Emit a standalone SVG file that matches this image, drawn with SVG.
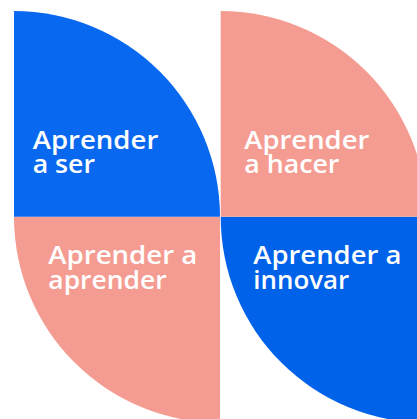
<svg xmlns="http://www.w3.org/2000/svg" width="417" height="419" viewBox="0 0 417 419">
<style>
.lbl{font-family:"Open Sans","Liberation Sans",sans-serif;font-size:25.5px;font-weight:600;fill:#ffffff}
.blue1{fill:#0869F0}
.blue2{fill:#0062E9}
.salmon{fill:#F59C92}
</style>
<rect width="417" height="419" fill="#ffffff"/>
<g id="node-aprender-a-aprender">
<path class="salmon" d="M14,216.7 L220,216.7 L220,422.7 A206,206 0 0 1 14,216.7 Z"/>
<text class="lbl" x="48.3" y="264.3" textLength="149" lengthAdjust="spacingAndGlyphs">Aprender a</text>
<text class="lbl" x="48.3" y="288.5" textLength="118.4" lengthAdjust="spacingAndGlyphs">aprender</text>
</g>
<g id="node-aprender-a-innovar">
<path class="blue2" d="M220.7,216.7 L426.7,216.7 L426.7,422.7 A206,206 0 0 1 220.7,216.7 Z"/>
<text class="lbl" x="253.3" y="264.3" textLength="148" lengthAdjust="spacingAndGlyphs">Aprender a</text>
<text class="lbl" x="253.3" y="288.5" textLength="96" lengthAdjust="spacingAndGlyphs">innovar</text>
</g>
<g id="node-aprender-a-ser">
<path class="blue1" d="M14,216.7 L14,11 A206,206 0 0 1 220,216.7 Z"/>
<text class="lbl" x="32.7" y="148.6" textLength="125.6" lengthAdjust="spacingAndGlyphs">Aprender</text>
<text class="lbl" x="32.7" y="173" textLength="62.3" lengthAdjust="spacingAndGlyphs">a ser</text>
</g>
<g id="node-aprender-a-hacer">
<path class="salmon" d="M220.7,216.7 L220.7,11 A206,206 0 0 1 426.7,216.7 Z"/>
<text class="lbl" x="244.3" y="148.6" textLength="125" lengthAdjust="spacingAndGlyphs">Aprender</text>
<text class="lbl" x="244.3" y="173" textLength="95" lengthAdjust="spacingAndGlyphs">a hacer</text>
</g>
<g id="connectors"></g>
</svg>
